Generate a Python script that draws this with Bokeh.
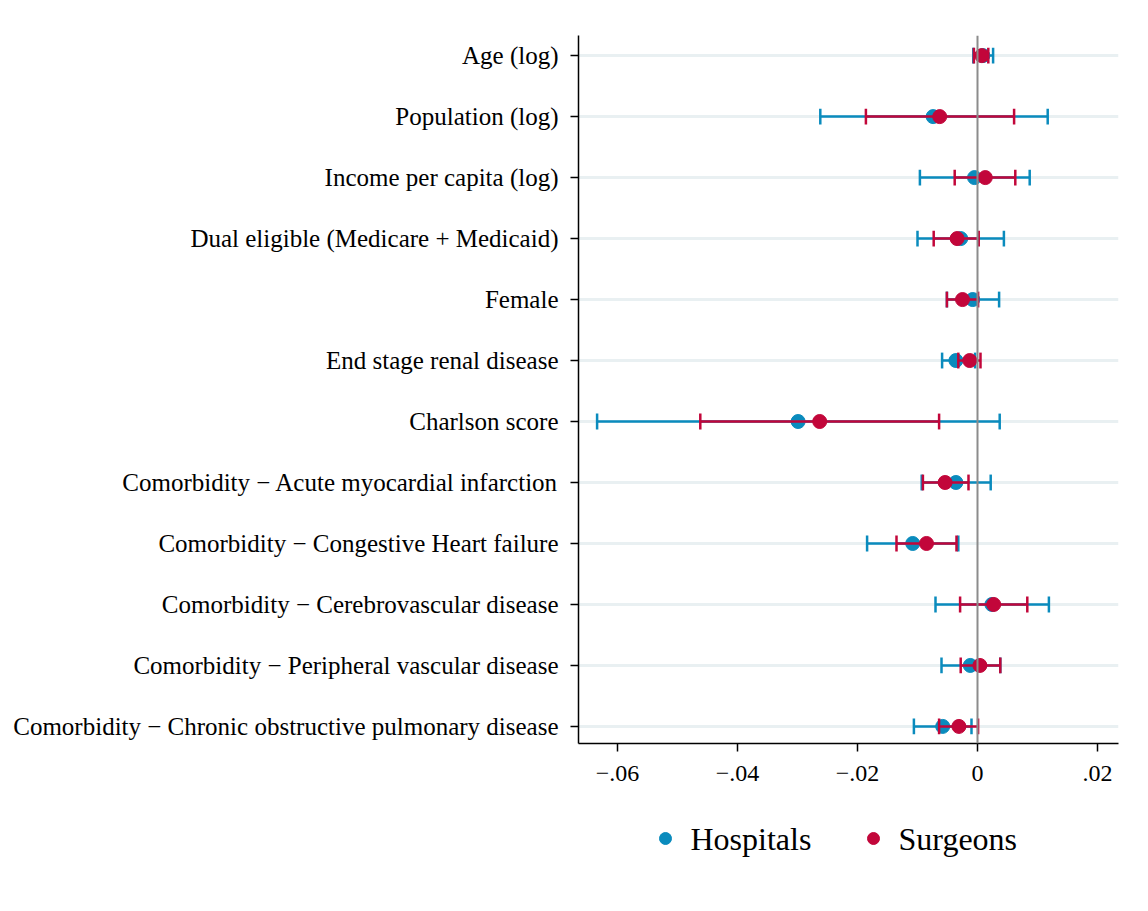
from bokeh.plotting import figure
from bokeh.layouts import column
from bokeh.models import (ColumnDataSource, FixedTicker, Span, Range1d)
from bokeh.core.properties import value
from bokeh.embed import file_html
from bokeh.resources import INLINE

labels = [
    "Age (log)",
    "Population (log)",
    "Income per capita (log)",
    "Dual eligible (Medicare + Medicaid)",
    "Female",
    "End stage renal disease",
    "Charlson score",
    "Comorbidity \u2212 Acute myocardial infarction",
    "Comorbidity \u2212 Congestive Heart failure",
    "Comorbidity \u2212 Cerebrovascular disease",
    "Comorbidity \u2212 Peripheral vascular disease",
    "Comorbidity \u2212 Chronic obstructive pulmonary disease",
]

hosp_est = [0.0009, -0.0074, -0.0005, -0.0028, -0.0008, -0.0036, -0.0299, -0.0036, -0.0108, 0.0024, -0.0012, -0.0058]
hosp_lo  = [-0.0007, -0.0262, -0.0096, -0.0100, -0.0051, -0.0059, -0.0634, -0.0093, -0.0184, -0.0070, -0.0060, -0.0106]
hosp_hi  = [0.0026, 0.0117, 0.0087, 0.0044, 0.0036, -0.0004, 0.0037, 0.0022, -0.0032, 0.0119, 0.0038, -0.0010]

surg_est = [0.0007, -0.0063, 0.0013, -0.0034, -0.0025, -0.0013, -0.0263, -0.0054, -0.0085, 0.0027, 0.0004, -0.0031]
surg_lo  = [-0.0006, -0.0186, -0.0038, -0.0073, -0.0051, -0.0032, -0.0462, -0.0091, -0.0135, -0.0029, -0.0028, -0.0064]
surg_hi  = [0.0018, 0.0061, 0.0063, 0.0002, 0.0001, 0.0005, -0.0064, -0.0015, -0.0035, 0.0083, 0.0038, 0.0001]

x_ticks = [-0.06, -0.04, -0.02, 0.0, 0.02]
x_tick_labels = ["\u2212.06", "\u2212.04", "\u2212.02", "0", ".02"]

series_names = ["Hospitals", "Surgeons"]
colors = ["#0a8bbd", "#c2063a"]

n = len(labels)
ypos = [n - i for i in range(n)]  # top row = n

FONT = "Liberation Serif"
LEFT, FRAME_W, RIGHT = 578, 540, 22

p = figure(frame_width=FRAME_W, frame_height=708, output_backend="svg", toolbar_location=None,
           x_range=Range1d(-0.0665, 0.0235), y_range=Range1d(0.72, n + 0.33),
           min_border_left=LEFT, min_border_right=RIGHT, min_border_top=35, min_border_bottom=60)
p.outline_line_color = None
p.background_fill_color = "white"
p.border_fill_color = "white"

# axes
p.xaxis.ticker = FixedTicker(ticks=x_ticks)
p.xaxis.major_label_overrides = {t: l for t, l in zip(x_ticks, x_tick_labels)}
p.yaxis.ticker = FixedTicker(ticks=ypos)
p.yaxis.major_label_overrides = {y: l for y, l in zip(ypos, labels)}
for ax in (p.xaxis[0], p.yaxis[0]):
    ax.axis_line_color = "black"
    ax.axis_line_width = 1.5
    ax.major_tick_line_color = "black"
    ax.major_tick_line_width = 1.5
    ax.major_tick_out = 8
    ax.major_tick_in = 0
    ax.minor_tick_line_color = None
    ax.major_label_text_font = FONT
    ax.major_label_text_color = "black"
p.yaxis.major_label_text_font_size = "25px"
p.xaxis.major_label_text_font_size = "24px"
p.yaxis.major_label_standoff = 12
p.xaxis.major_label_standoff = 14

p.xgrid.grid_line_color = None
p.ygrid.ticker = FixedTicker(ticks=ypos)
p.ygrid.grid_line_color = "#e9f0f2"
p.ygrid.grid_line_width = 3

p.add_layout(Span(location=0, dimension="height", line_color="#8c8c8c", line_width=2))

cap = 0.13
series = [(series_names[0], hosp_est, hosp_lo, hosp_hi, colors[0]),
          (series_names[1], surg_est, surg_lo, surg_hi, colors[1])]
for name, est, lo, hi, col in series:
    src = ColumnDataSource(dict(y=ypos, est=est, lo=lo, hi=hi,
                                ylo=[y - cap for y in ypos], yhi=[y + cap for y in ypos]))
    p.segment(x0="lo", x1="hi", y0="y", y1="y", source=src, line_color=col, line_width=2.5)
    p.segment(x0="lo", x1="lo", y0="ylo", y1="yhi", source=src, line_color=col, line_width=2.5)
    p.segment(x0="hi", x1="hi", y0="ylo", y1="yhi", source=src, line_color=col, line_width=2.5)
    p.scatter(x="est", y="y", source=src, size=14, fill_color=col, line_color=col)

# legend strip beneath the chart; its frame is aligned with the chart frame,
# so its x coordinates are page pixels from LEFT to LEFT + FRAME_W
LEG_H = 100
leg_fig = figure(frame_width=FRAME_W, frame_height=LEG_H, output_backend="svg",
                 toolbar_location=None,
                 x_range=Range1d(LEFT, LEFT + FRAME_W), y_range=Range1d(0, LEG_H),
                 min_border_left=LEFT, min_border_right=RIGHT, min_border_top=0,
                 min_border_bottom=0, outline_line_color=None)
leg_fig.axis.visible = False
leg_fig.grid.visible = False
leg_marker_x = [665, 873]
leg_text_x = [m + 25 for m in leg_marker_x]
leg_y = LEG_H - 35
leg_src = ColumnDataSource(dict(mx=leg_marker_x, tx=leg_text_x, y=[leg_y] * 2,
                                label=series_names, color=colors))
leg_fig.scatter(x="mx", y="y", source=leg_src, size=12, fill_color="color", line_color="color")
leg_fig.text(x="tx", y="y", text="label", source=leg_src, text_font=value(FONT),
             text_font_size="32px", text_color="black", text_baseline="middle",
             text_align="left")

layout = column(p, leg_fig, spacing=0)
open("out.html", "w").write(file_html(layout, INLINE))
